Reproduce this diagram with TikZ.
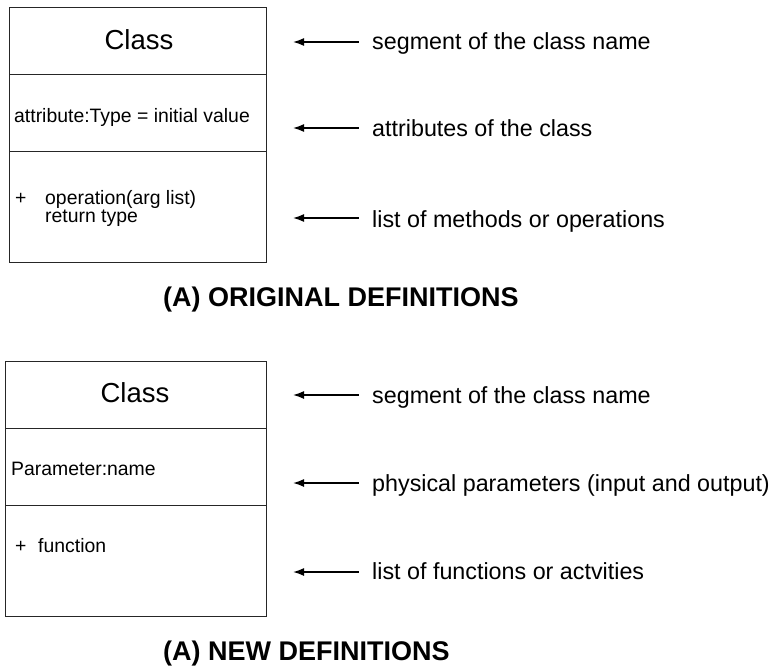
\documentclass[tikz,border=0pt]{standalone}
\usepackage{fontspec}
\setmainfont{Liberation Sans}
\usetikzlibrary{arrows.meta}
\begin{document}
\begin{tikzpicture}[x=1pt,y=-1pt,
  comp/.style={draw=black!85, line width=1.2pt, rectangle, inner sep=0pt, minimum width=257pt, anchor=north west},
  bigtxt/.style={font=\fontsize{27.5}{32}\selectfont, inner sep=0pt},
  boxtxt/.style={font=\fontsize{19.4}{23}\selectfont, inner sep=0pt, anchor=base west},
  sidetxt/.style={font=\fontsize{23.3}{28}\selectfont, inner sep=0pt, anchor=base west},
  titletxt/.style={font=\fontsize{27}{32}\selectfont\bfseries, inner sep=0pt, anchor=base west},
  arr/.style={{Latex[length=11pt,width=8pt]}-, line width=1.5pt, shorten >=13pt}
]
\useasboundingbox (0,0) rectangle (773,667);

% ---- (A) original definitions ----
\node[comp, minimum height=67pt] (c1) at (9,7) {};
\node[comp, minimum height=77pt] (a1) at (9,74) {};
\node[comp, minimum height=111pt] (o1) at (9,151) {};
\node[bigtxt, anchor=base] (cn1) at (139,49.5) {Class};
\node[boxtxt] (at1) at (14,122) {attribute:Type = initial value};
\node[boxtxt] (pl1) at (15,204) {+};
\node[boxtxt] (op1) at (45,204) {operation(arg list)};
\node[boxtxt] (rt1) at (45,222) {return type};

\node[sidetxt] (s1) at (372,49) {segment of the class name};
\node[sidetxt] (s2) at (372,136) {attributes of the class};
\node[sidetxt] (s3) at (372,227) {list of methods or operations};
\coordinate (p1) at (293,42);
\coordinate (p2) at (293,128);
\coordinate (p3) at (293,218);
\draw[arr] (p1) -- (p1 -| s1.west);
\draw[arr] (p2) -- (p2 -| s2.west);
\draw[arr] (p3) -- (p3 -| s3.west);

\node[titletxt] (t1) at (163,306) {(A) ORIGINAL DEFINITIONS};

% ---- (A) new definitions ----
\node[comp, minimum width=261pt, minimum height=67pt] (c2) at (5,361) {};
\node[comp, minimum width=261pt, minimum height=77pt] (a2) at (5,428) {};
\node[comp, minimum width=261pt, minimum height=111pt] (o2) at (5,505) {};
\node[bigtxt, anchor=base] (cn2) at (135,402.7) {Class};
\node[boxtxt] (at2) at (11,475) {Parameter:name};
\node[boxtxt] (pl2) at (15,552) {+};
\node[boxtxt] (fn2) at (38,552) {function};

\node[sidetxt] (s4) at (372,403) {segment of the class name};
\node[sidetxt] (s5) at (372,491) {physical parameters (input and output)};
\node[sidetxt] (s6) at (372,579) {list of functions or actvities};
\coordinate (p4) at (293,395);
\coordinate (p5) at (293,483);
\coordinate (p6) at (293,572);
\draw[arr] (p4) -- (p4 -| s4.west);
\draw[arr] (p5) -- (p5 -| s5.west);
\draw[arr] (p6) -- (p6 -| s6.west);

\node[titletxt] (t2) at (163,660.5) {(A) NEW DEFINITIONS};
\end{tikzpicture}
\end{document}
